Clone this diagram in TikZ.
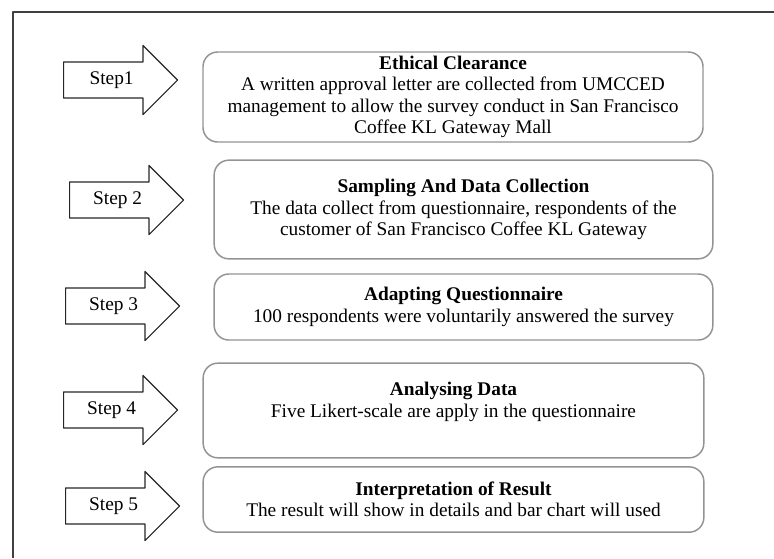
\documentclass[tikz,border=0pt]{standalone}
\usepackage{fontspec}
\setmainfont{Liberation Serif}
\usetikzlibrary{shapes.arrows}
\begin{document}
\begin{tikzpicture}[x=0.75pt,y=-0.75pt,line join=round,font=\fontsize{14.5}{16.1}\selectfont,
	steparrow/.style={draw=black!85,line width=0.9pt,single arrow,single arrow head extend=12.4pt,single arrow tip angle=90,minimum height=85.5pt,minimum width=1pt,text height=10pt,text depth=3pt,inner ysep=6.6pt,inner xsep=4pt,anchor=tail},
	stepbox/.style={draw=gray!85,line width=1.1pt,rounded corners=11pt,align=center,inner sep=0pt}]
		\useasboundingbox (0,0) rectangle (774,558);
		\draw[black!75,line width=1.1pt] (774,12)--(13,12)--(13,558);
		\node[steparrow] (a1) at (63,80) {Step1};
		\node[steparrow] (a2) at (69,200) {Step 2};
		\node[steparrow] (a3) at (65,306) {Step 3};
		\node[steparrow] (a4) at (63,410) {Step 4};
		\node[steparrow] (a5) at (65,506) {Step 5};
		\node[stepbox,minimum width=375pt,minimum height=67.5pt] (b1) at (453,97) {\textbf{Ethical Clearance}\\A written approval letter are collected from UMCCED\\management to allow the survey conduct in San Francisco\\Coffee KL Gateway Mall};
		\node[stepbox,minimum width=374pt,minimum height=74pt] (b2) at (463.5,209.5) {\textbf{Sampling And Data Collection}\\The data collect from questionnaire, respondents of the\\customer of San Francisco Coffee KL Gateway};
		\node[stepbox,minimum width=374pt,minimum height=49.5pt] (b3) at (463.5,307) {\textbf{Adapting Questionnaire}\\100 respondents were voluntarily answered the survey};
		\node[stepbox,minimum width=375.5pt,minimum height=71pt] (b4) at (453.5,410.5) {\textbf{Analysing Data}\\Five Likert-scale are apply in the questionnaire\\\mbox{}};
		\node[stepbox,minimum width=375.5pt,minimum height=49pt] (b5) at (453.5,499.5) {\textbf{Interpretation of Result}\\The result will show in details and bar chart will used};
\end{tikzpicture}
\end{document}
